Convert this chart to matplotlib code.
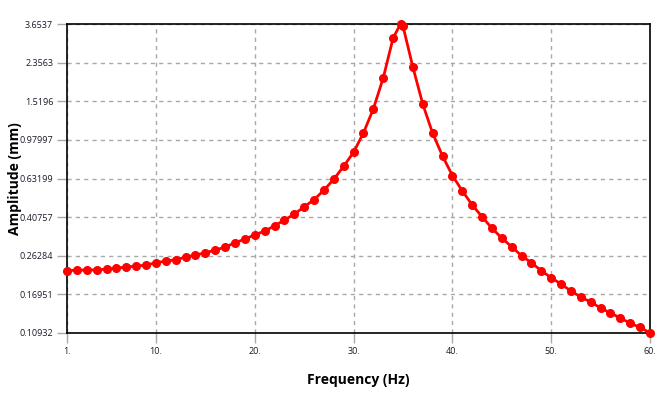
import numpy as np
import matplotlib
matplotlib.use("Agg")
import matplotlib.pyplot as plt
from matplotlib.ticker import FixedLocator, FixedFormatter, NullLocator

plt.rcParams['font.family'] = ['Open Sans', 'DejaVu Sans']

freq = [1, 2, 3, 4, 5, 6, 7, 8, 9, 10, 11, 12, 13, 14, 15, 16, 17, 18, 19, 20,
        21, 22, 23, 24, 25, 26, 27, 28, 29, 30, 31, 32, 33, 34, 34.75, 35,
        36, 37, 38, 39, 40, 41, 42, 43, 44, 45, 46, 47, 48, 49, 50,
        51, 52, 53, 54, 55, 56, 57, 58, 59, 60]
amplitude = [0.2217, 0.2234, 0.2236, 0.2238, 0.2260, 0.2285, 0.2311, 0.2338, 0.2364, 0.2428,
             0.2474, 0.2512, 0.2589, 0.2648, 0.2719, 0.2803, 0.2900, 0.3046, 0.3175, 0.3335,
             0.3476, 0.3695, 0.3938, 0.4217, 0.4583, 0.4970, 0.5536, 0.6272, 0.7268, 0.8520,
             1.0609, 1.393, 1.980, 3.116, 3.6537, 3.571,
             2.243, 1.474, 1.057, 0.8172, 0.6539, 0.5495, 0.4687, 0.4091, 0.3597, 0.3212,
             0.2911, 0.2628, 0.2428, 0.2217, 0.2048,
             0.1906, 0.1761, 0.1645, 0.1554, 0.1452, 0.1372, 0.1296, 0.1220, 0.1166, 0.10932]

x_ticks = [1, 10, 20, 30, 40, 50, 60]
x_labels = ["1.", "10.", "20.", "30.", "40.", "50.", "60."]
y_ticks = [0.10932, 0.16951, 0.26284, 0.40757, 0.63199, 0.97997, 1.5196, 2.3563, 3.6537]
y_labels = ["0.10932", "0.16951", "0.26284", "0.40757", "0.63199", "0.97997", "1.5196", "2.3563", "3.6537"]

fig = plt.figure(figsize=(6.66, 4.01), dpi=100)
ax = fig.add_axes([0.1006, 0.1696, 0.8754, 0.7704])

ax.plot(freq, amplitude, color="red", linewidth=2, marker="o", markersize=5.5,
        markerfacecolor="red", markeredgecolor="red", zorder=3, clip_on=False)

ax.set_yscale("log")
ax.set_xlim(1, 60)
ax.set_ylim(0.10932, 3.6537)
ax.xaxis.set_major_locator(FixedLocator(x_ticks))
ax.xaxis.set_major_formatter(FixedFormatter(x_labels))
ax.yaxis.set_major_locator(FixedLocator(y_ticks))
ax.yaxis.set_major_formatter(FixedFormatter(y_labels))
ax.yaxis.set_minor_locator(NullLocator())
ax.xaxis.set_minor_locator(NullLocator())

ax.grid(True, color="#a8a8a8", linestyle=(0, (3, 3)), linewidth=1)
ax.tick_params(axis="both", which="major", length=7, width=1, color="#a8a8a8",
               labelsize=6.5, pad=3, labelcolor="#1a1a2a")
for spine in ax.spines.values():
    spine.set_color("black")
    spine.set_linewidth(1.2)

ax.set_xlabel("Frequency (Hz)", fontsize=10, fontweight="bold")
ax.set_ylabel("Amplitude (mm)", fontsize=10, fontweight="bold")
ax.xaxis.set_label_coords(0.5, -0.128)
ax.yaxis.set_label_coords(-0.077, 0.5)

fig.savefig("out.png", dpi=100)
